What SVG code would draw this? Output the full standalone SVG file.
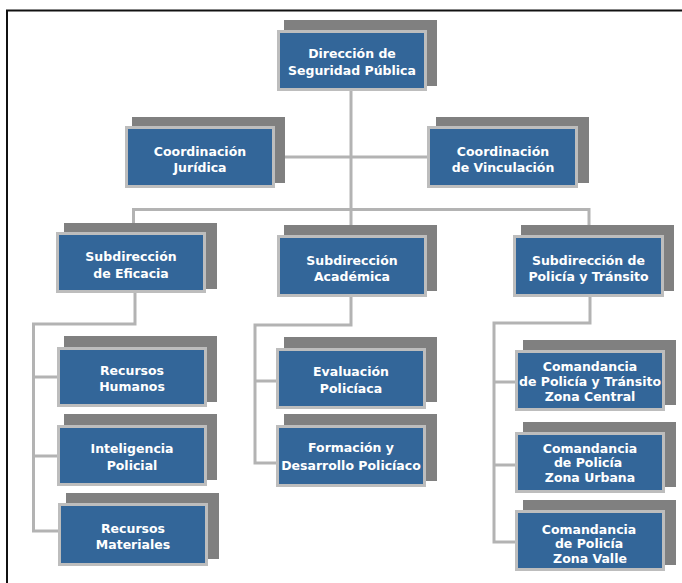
<svg xmlns="http://www.w3.org/2000/svg" width="682" height="583" viewBox="0 0 682 583">
  <style>
    .shadow { fill: #808080; }
    .box { fill: #336699; stroke: #bdbdbd; stroke-width: 3; }
    .label { fill: #ffffff; font-family: "DejaVu Sans", Verdana, sans-serif; font-weight: bold; font-size: 12.5px; text-anchor: middle; }
    .link { fill: none; stroke: #b3b3b3; stroke-width: 3; }
    .frame { fill: none; stroke: #111111; stroke-width: 2; }
  </style>
  <rect width="682" height="583" fill="#ffffff"/>
  <path class="frame" d="M7,583 V10.5 H682"/>

  <!-- connectors -->
  <g id="connectors">
    <path class="link" d="M351,91 V209.5"/>
    <path class="link" d="M274,157 H427"/>
    <path class="link" d="M133.5,224 V209.5 H589 V226"/>
    <path class="link" d="M351,209.5 V226"/>
    <!-- Subdirección de Eficacia branch -->
    <path class="link" d="M135,293 V324 H33.5 V531 H58"/>
    <path class="link" d="M33.5,377 H57"/>
    <path class="link" d="M33.5,456 H57"/>
    <!-- Subdirección Académica branch -->
    <path class="link" d="M351,297 V325 H255 V463 H276"/>
    <path class="link" d="M255,381 H276"/>
    <!-- Subdirección de Policía y Tránsito branch -->
    <path class="link" d="M590,297 V323 H494 V542 H515"/>
    <path class="link" d="M494,382 H515"/>
    <path class="link" d="M494,465 H515"/>
  </g>

  <g id="direccion">
    <rect class="shadow" x="284" y="20" width="153" height="66"/>
    <rect class="box" x="278.5" y="31.5" width="147" height="58"/>
    <text class="label" x="352" y="58">Dirección de</text>
    <text class="label" x="352" y="75">Seguridad Pública</text>
  </g>

  <g id="coord-juridica">
    <rect class="shadow" x="132" y="117" width="153" height="66"/>
    <rect class="box" x="126.5" y="127.5" width="147" height="59"/>
    <text class="label" x="200" y="155.5">Coordinación</text>
    <text class="label" x="200" y="171.5">Jurídica</text>
  </g>

  <g id="coord-vinculacion">
    <rect class="shadow" x="436" y="117" width="153" height="66"/>
    <rect class="box" x="428.5" y="127.5" width="148" height="59"/>
    <text class="label" x="503" y="155.5">Coordinación</text>
    <text class="label" x="503" y="171.5">de Vinculación</text>
  </g>

  <g id="sub-eficacia">
    <rect class="shadow" x="64" y="223" width="153" height="66"/>
    <rect class="box" x="57.5" y="233.5" width="147" height="58"/>
    <text class="label" x="131" y="261">Subdirección</text>
    <text class="label" x="131" y="277.5">de Eficacia</text>
  </g>

  <g id="sub-academica">
    <rect class="shadow" x="284" y="225" width="153" height="66"/>
    <rect class="box" x="278.5" y="236.5" width="147" height="59"/>
    <text class="label" x="352" y="264.5">Subdirección</text>
    <text class="label" x="352" y="281">Académica</text>
  </g>

  <g id="sub-policia">
    <rect class="shadow" x="521" y="225" width="153" height="66"/>
    <rect class="box" x="514.5" y="236.5" width="148" height="59"/>
    <text class="label" x="588.5" y="264.5">Subdirección de</text>
    <text class="label" x="588.5" y="281">Policía y Tránsito</text>
  </g>

  <g id="recursos-humanos">
    <rect class="shadow" x="64" y="336" width="153" height="66"/>
    <rect class="box" x="58.5" y="348.5" width="147" height="57"/>
    <text class="label" x="132" y="375">Recursos</text>
    <text class="label" x="132" y="391">Humanos</text>
  </g>

  <g id="inteligencia-policial">
    <rect class="shadow" x="64" y="414" width="153" height="66"/>
    <rect class="box" x="58.5" y="426.5" width="147" height="58"/>
    <text class="label" x="132" y="453">Inteligencia</text>
    <text class="label" x="132" y="470">Policial</text>
  </g>

  <g id="recursos-materiales">
    <rect class="shadow" x="66" y="493" width="153" height="66"/>
    <rect class="box" x="59.5" y="504.5" width="147" height="60"/>
    <text class="label" x="133" y="532.5">Recursos</text>
    <text class="label" x="133" y="548.5">Materiales</text>
  </g>

  <g id="evaluacion-policiaca">
    <rect class="shadow" x="284" y="337" width="153" height="65"/>
    <rect class="box" x="277.5" y="349.5" width="147" height="58"/>
    <text class="label" x="351" y="376">Evaluación</text>
    <text class="label" x="351" y="392.5">Policíaca</text>
  </g>

  <g id="formacion-desarrollo">
    <rect class="shadow" x="284" y="414" width="153" height="67"/>
    <rect class="box" x="277.5" y="426.5" width="147" height="59"/>
    <text class="label" x="351" y="452">Formación y</text>
    <text class="label" x="351" y="469.5">Desarrollo Policíaco</text>
  </g>

  <g id="zona-central">
    <rect class="shadow" x="523" y="340" width="153" height="65"/>
    <rect class="box" x="516.5" y="351.5" width="147" height="58"/>
    <text class="label" x="590" y="371">Comandancia</text>
    <text class="label" x="590" y="385.5">de Policía y Tránsito</text>
    <text class="label" x="590" y="400.5">Zona Central</text>
  </g>

  <g id="zona-urbana">
    <rect class="shadow" x="523" y="422" width="153" height="65"/>
    <rect class="box" x="516.5" y="433.5" width="147" height="58"/>
    <text class="label" x="590" y="452.5">Comandancia</text>
    <text class="label" x="588" y="467">de Policía</text>
    <text class="label" x="590" y="481.5">Zona Urbana</text>
  </g>

  <g id="zona-valle">
    <rect class="shadow" x="523" y="500" width="153" height="65"/>
    <rect class="box" x="516.5" y="511.5" width="147" height="58"/>
    <text class="label" x="589" y="533.5">Comandancia</text>
    <text class="label" x="589" y="548">de Policía</text>
    <text class="label" x="590" y="562.5">Zona Valle</text>
  </g>
</svg>
